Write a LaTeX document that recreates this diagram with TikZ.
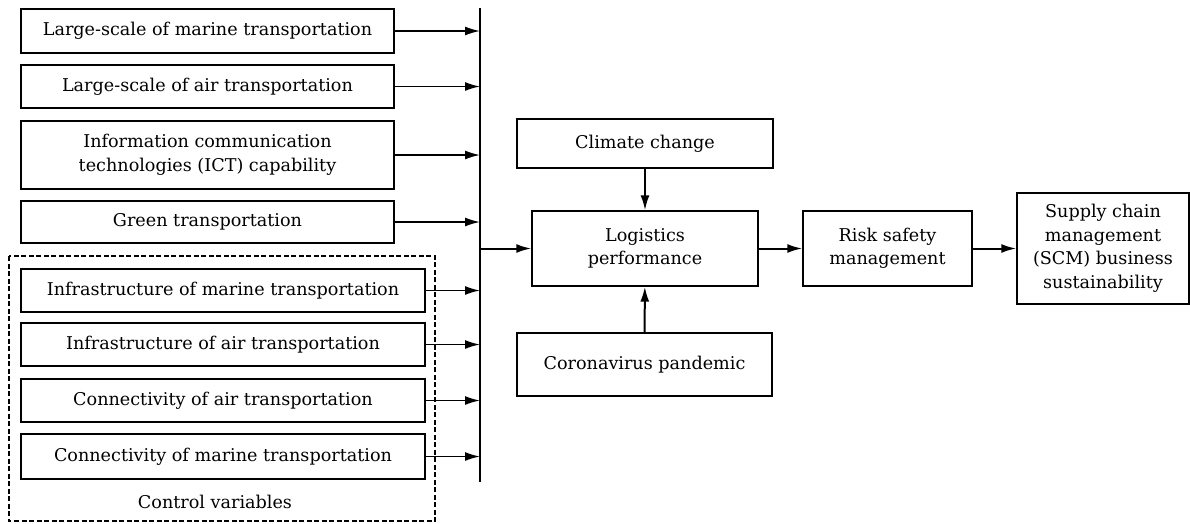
\documentclass[tikz,border=0pt]{standalone}
\usepackage{fontspec}
\setmainfont{DejaVu Serif}
\usetikzlibrary{arrows.meta}
\tikzset{
  box/.style={draw, line width=1.4pt, align=center, inner sep=0pt,
    font=\fontsize{17.6}{23.5}\selectfont},
  link/.style={-{Latex[length=15pt,width=9pt]}, line width=1.6pt},
  mainlink/.style={-{Latex[length=15pt,width=9pt]}, line width=2pt}
}
\begin{document}
\begin{tikzpicture}[x=1pt,y=-1pt]
  \useasboundingbox (0,0) rectangle (1190,523);

  % control variables frame
  \draw[line width=1.4pt, dash pattern=on 5pt off 2.5pt] (9,256) rectangle (435,521);
  \node[font=\fontsize{17.6}{23.5}\selectfont] (ctrl) at (215,502) {Control variables};

  \node[box, minimum width=373, minimum height=44] (lsmarine) at (207.5,31) {Large-scale of marine transportation};
  \node[box, minimum width=373, minimum height=43] (lsair) at (207.5,86.5) {Large-scale of air transportation};
  \node[box, minimum width=373, minimum height=68] (ict) at (207.5,155) {Information communication\\technologies (ICT) capability};
  \node[box, minimum width=373, minimum height=42] (green) at (207.5,222) {Green transportation};

  \node[box, minimum width=404, minimum height=43] (infmarine) at (223,290.5) {Infrastructure of marine transportation};
  \node[box, minimum width=404, minimum height=43] (infair) at (223,344.5) {Infrastructure of air transportation};
  \node[box, minimum width=404, minimum height=43] (conair) at (223,400.5) {Connectivity of air transportation};
  \node[box, minimum width=404, minimum height=45] (conmarine) at (223,456.5) {Connectivity of marine transportation};

  \node[box, minimum width=256, minimum height=49] (climate) at (645,143.5) {Climate change};
  \node[box, minimum width=226, minimum height=75] (logistics) at (645,248.5) {Logistics\\performance};
  \node[box, minimum width=255, minimum height=63] (corona) at (644.5,364.5) {Coronavirus pandemic};
  \node[box, minimum width=169, minimum height=75] (risk) at (887.5,248.5) {Risk safety\\management};
  \node[box, minimum width=172, minimum height=111] (scm) at (1103,248.5) {Supply chain\\management\\(SCM) business\\sustainability};

  % collecting line
  \coordinate (bustop) at (480,8);
  \coordinate (busbot) at (480,482);
  \draw[line width=1.4pt] (bustop) -- (busbot);

  \foreach \n in {lsmarine,lsair,ict,green,infmarine,infair,conair,conmarine}
    \draw[link] (\n.east) -- (\n.east -| bustop);

  \draw[mainlink] (logistics.west -| bustop) -- (logistics.west);
  \draw[mainlink] (climate) -- (logistics);
  \draw[mainlink] (corona) -- (logistics);
  \draw[mainlink] (logistics) -- (risk);
  \draw[mainlink] (risk) -- (scm);
\end{tikzpicture}
\end{document}
